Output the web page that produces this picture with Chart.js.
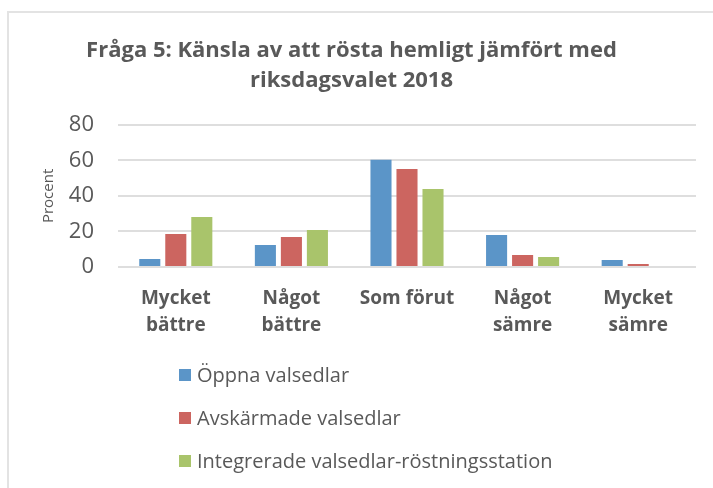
<!DOCTYPE html>
<html>
<head>
<meta charset="utf-8">
<script src="https://cdn.jsdelivr.net/npm/chart.js@4/dist/chart.umd.min.js"></script>
<style>
  html, body { margin: 0; padding: 0; background: #fff; }
  #wrap { position: relative; width: 713px; height: 488px; overflow: hidden; }
  #frame { position: absolute; left: 7px; top: 11px; width: 800px; height: 600px;
           border-top: 2px solid #e3e3e3; border-left: 2px solid #e3e3e3; }
  #chart { position: absolute; left: 0; top: 0; }
  #legend { position: absolute; left: 179px; top: 361px; margin: 0; padding: 0; list-style: none;
            font-family: "Open Sans", sans-serif; font-size: 20px; color: #595959; }
  #legend li { height: 43px; display: flex; align-items: flex-start; line-height: 27px; }
  #legend span.box { display: inline-block; width: 12px; height: 12px; margin: 8px 6px 0 0; }
</style>
</head>
<body>
<div id="wrap">
  <div id="frame"></div>
  <canvas id="chart" width="713" height="488"></canvas>
  <ul id="legend"></ul>
</div>
<script>
const categories = [['Mycket', 'bättre'], ['Något', 'bättre'], ['Som förut'], ['Något', 'sämre'], ['Mycket', 'sämre']];
const seriesNames = ['Öppna valsedlar', 'Avskärmade valsedlar', 'Integrerade valsedlar-röstningsstation'];
const oppna = [4.5, 12.4, 60.3, 18.0, 3.9];
const avskarmade = [18.6, 16.9, 55.2, 6.8, 1.7];
const integrerade = [28.2, 20.8, 43.9, 5.6, 0.6];
const yTicks = [0, 20, 40, 60, 80];
const colors = ['#5b95c8', '#cc6560', '#a9c46b'];

const textColor = '#595959';
const fontFamily = '"Open Sans", sans-serif';

const ctx = document.getElementById('chart').getContext('2d');
const chart = new Chart(ctx, {
    type: 'bar',
    data: {
        labels: categories,
        datasets: [oppna, avskarmade, integrerade].map((values, i) => ({
            label: seriesNames[i],
            data: values,
            backgroundColor: colors[i],
            borderWidth: 0,
            categoryPercentage: 0.675,
            barPercentage: 0.81
        }))
    },
    options: {
        responsive: false,
        animation: false,
        layout: { padding: { left: 7, right: 17, top: 0, bottom: 131 } },
        plugins: {
            legend: { display: false },
            tooltip: { enabled: false },
            title: {
                display: true,
                text: ['Fråga 5: Känsla av att rösta hemligt jämfört med', 'riksdagsvalet 2018'],
                color: textColor,
                font: { family: fontFamily, size: 22, weight: 'bold', lineHeight: 1.36 },
                padding: { top: 36, bottom: 29 }
            }
        },
        scales: {
            x: {
                grid: { display: false, drawTicks: false },
                border: { display: false },
                ticks: {
                    color: textColor,
                    padding: 18,
                    maxRotation: 0,
                    autoSkip: false,
                    font: { family: fontFamily, size: 19, weight: 'bold', lineHeight: 1.42 }
                }
            },
            y: {
                min: 0,
                max: 80,
                afterBuildTicks: scale => { scale.ticks = yTicks.map(v => ({ value: v })); },
                afterFit: scale => { scale.width = 111; },
                grid: { color: '#dedede', lineWidth: 2, drawTicks: false },
                border: { display: false },
                ticks: {
                    color: textColor,
                    padding: 24,
                    font: { family: fontFamily, size: 22 }
                },
                title: {
                    display: true,
                    text: 'Procent',
                    color: textColor,
                    padding: { top: 33, bottom: 0 },
                    font: { family: fontFamily, size: 15 }
                }
            }
        }
    }
});

// HTML legend, one series per row like the original
const legend = document.getElementById('legend');
chart.data.datasets.forEach(ds => {
    const li = document.createElement('li');
    li.innerHTML = `<span class="box" style="background:${ds.backgroundColor}"></span>${ds.label}`;
    legend.appendChild(li);
});
</script>
</body>
</html>
